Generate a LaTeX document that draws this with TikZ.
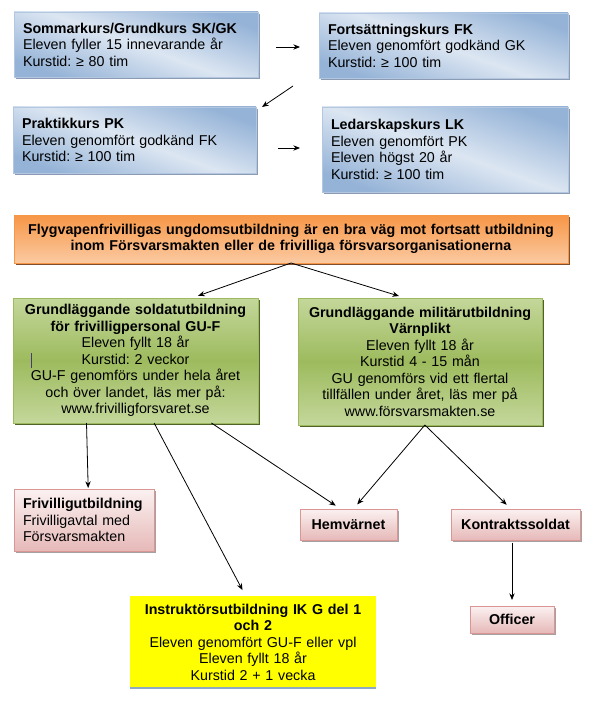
\documentclass[tikz,border=0pt]{standalone}
\usepackage{fontspec}
\setmainfont{Liberation Sans}
\usetikzlibrary{positioning, calc, shadows, arrows.meta}
\frenchspacing

\definecolor{blueDark}{HTML}{95B3D7}
\definecolor{blueLight}{HTML}{DCE6F2}
\definecolor{blueLine}{HTML}{B4C7E1}
\definecolor{blueShadow}{HTML}{8A9BB3}
\definecolor{greenDark}{HTML}{9DBB5E}
\definecolor{greenLight}{HTML}{C4D79B}
\definecolor{greenShadow}{HTML}{4F6228}
\definecolor{orangeDark}{HTML}{F79646}
\definecolor{orangeLight}{HTML}{FBCAA2}
\definecolor{orangeShadow}{HTML}{7F5030}
\definecolor{pinkLight}{HTML}{FBF1F1}
\definecolor{pinkDark}{HTML}{E6B9B8}
\definecolor{pinkLine}{HTML}{D99694}
\definecolor{pinkShadow}{HTML}{A6A0A0}
\definecolor{yellowBox}{HTML}{FFFF00}
\definecolor{yellowLine}{HTML}{8EA9C4}

\tikzset{
	box/.style={draw, line width=0.6pt, outer sep=0pt, inner xsep=6.75pt, inner ysep=0pt,
		anchor=north west, font=\fontsize{10.7}{12.4}\selectfont},
	bluebox/.style={box, draw=blueLine, top color=blueDark, bottom color=blueDark,
		middle color=blueLight, shading angle=-20, align=left,
		drop shadow={shadow xshift=1.8pt, shadow yshift=-1.8pt, fill=blueShadow, opacity=1}},
	greenbox/.style={box, draw=greenDark, top color=greenLight, bottom color=greenLight,
		middle color=greenDark, align=center,
		drop shadow={shadow xshift=1.8pt, shadow yshift=-1.8pt, fill=greenShadow, opacity=1}},
	orangebox/.style={box, draw=orangeDark, top color=orangeDark, bottom color=orangeLight,
		align=center, font=\fontsize{10.7}{12.4}\selectfont\bfseries,
		drop shadow={shadow xshift=1.8pt, shadow yshift=-1.8pt, fill=orangeShadow, opacity=1}},
	pinkbox/.style={box, draw=pinkLine, top color=pinkLight, bottom color=pinkDark,
		drop shadow={shadow xshift=1.8pt, shadow yshift=-1.8pt, fill=pinkShadow, opacity=1}},
	yellowbox/.style={box, draw=none, fill=yellowBox, align=center},
	arr/.style={-{Stealth[length=5pt, width=4pt]}, line width=0.6pt},
}

\begin{document}
\begin{tikzpicture}[x=0.75pt, y=-0.75pt]
	\useasboundingbox (0,0) rectangle (589,709);

	% kurser
	\node[bluebox, text width=169.5pt, minimum height=48.75pt] (sk) at (14,12)
		{\textbf{Sommarkurs/Grundkurs SK/GK}\\Eleven fyller 15 innevarande år\\Kurstid: ≥ 80 tim};
	\node[bluebox, text width=173.25pt, minimum height=48.75pt] (fk) at (319,13)
		{\textbf{Fortsättningskurs FK}\\Eleven genomfört godkänd GK\\Kurstid: ≥ 100 tim};
	\node[bluebox, text width=168.75pt, minimum height=49.5pt] (pk) at (13,107)
		{\textbf{Praktikkurs PK}\\Eleven genomfört godkänd FK\\Kurstid: ≥ 100 tim};
	\node[bluebox, text width=171pt, minimum height=63.75pt] (lk) at (322,107)
		{\textbf{Ledarskapskurs LK}\\Eleven genomfört PK\\Eleven högst 20 år\\Kurstid: ≥ 100 tim};

	\coordinate (skA) at (276,47);  \coordinate (skB) at (300,47);
	\coordinate (fkA) at (293,86);  \coordinate (fkB) at (262,107);
	\coordinate (pkA) at (278,148); \coordinate (pkB) at (300,148);
	\draw[arr] (skA) -- (skB);
	\draw[arr] (fkA) -- (fkB);
	\draw[arr] (pkA) -- (pkB);

	\node[orangebox, text width=402pt, minimum height=36pt] (orng) at (14,215)
		{Flygvapenfrivilligas ungdomsutbildning är en bra väg mot fortsatt utbildning\\
		 inom Försvarsmakten eller de frivilliga försvarsorganisationerna};

	% grundutbildning
	\node[greenbox, text width=170.25pt, minimum height=93.75pt] (gl) at (13,298)
		{\textbf{Grundläggande soldatutbildning}\\\textbf{för frivilligpersonal GU-F}\\
		 Eleven fyllt 18 år\\Kurstid: 2 veckor\\GU-F genomförs under hela året\\
		 och över landet, läs mer på:\\www.frivilligforsvaret.se};
	\node[greenbox, text width=169.5pt, minimum height=95.25pt] (gr) at (298,298)
		{\textbf{Grundläggande militärutbildning}\\\textbf{Värnplikt}\\
		 Eleven fyllt 18 år\\Kurstid 4 - 15 mån\\GU genomförs vid ett flertal\\
		 tillfällen under året, läs mer på\\www.försvarsmakten.se};
	\draw[line width=0.5pt, color={rgb,255:red,75;green,58;blue,122}] (31,353) -- (31,368);

	\draw[arr, shorten >=5pt] (orng.south) -- ($(gl.north west)!0.73!(gl.north east)$);
	\draw[arr, shorten >=5pt] (orng.south) -- ($(gr.north west)!0.44!(gr.north east)$);

	% fortsättning
	\node[pinkbox, text width=91.5pt, minimum height=46.5pt, align=left] (friv) at (14,489)
		{\textbf{Frivilligutbildning}\\Frivilligavtal med\\Försvarsmakten};
	\node[pinkbox, text width=59.25pt, minimum height=23.25pt, align=center,
		font=\fontsize{10.7}{12.4}\selectfont\bfseries] (hemv) at (300,509) {Hemvärnet};
	\node[pinkbox, text width=83.25pt, minimum height=23.25pt, align=center,
		font=\fontsize{10.7}{12.4}\selectfont\bfseries] (kontr) at (451,509) {Kontraktssoldat};
	\node[pinkbox, text width=49.5pt, minimum height=20.25pt, align=center,
		font=\fontsize{10.7}{12.4}\selectfont\bfseries] (off) at (470,606) {Officer};
	\node[yellowbox, text width=171pt, minimum height=69pt] (yel) at (130,596)
		{\textbf{Instruktörsutbildning IK G del 1}\\\textbf{och 2}\\
		 Eleven genomfört GU-F eller vpl\\Eleven fyllt 18 år\\Kurstid 2 + 1 vecka};
	\draw[yellowLine, line width=1.5pt] (yel.south west) -- (yel.south east);

	\draw[arr, shorten >=0.75pt] ($(gl.south west)!0.30!(gl.south east)$)
		-- ($(friv.north west)!0.53!(friv.north east)$);
	\draw[arr, shorten >=5pt] ($(gl.south west)!0.576!(gl.south east)$)
		-- ($(yel.north west)!0.47!(yel.north east)$);
	\draw[arr, shorten >=4.5pt] ($(gl.south west)!0.81!(gl.south east)$)
		-- ($(hemv.north west)!0.42!(hemv.north east)$);
	\draw[arr, shorten >=4.5pt] ($(gr.south west)!0.52!(gr.south east)$)
		-- ($(hemv.north west)!0.55!(hemv.north east)$);
	\draw[arr, shorten >=4.5pt] ($(gr.south west)!0.52!(gr.south east)$)
		-- ($(kontr.north west)!0.465!(kontr.north east)$);
	\draw[arr, shorten <=2pt, shorten >=4.5pt] (kontr.south -| off.north) -- (off.north);
\end{tikzpicture}
\end{document}
